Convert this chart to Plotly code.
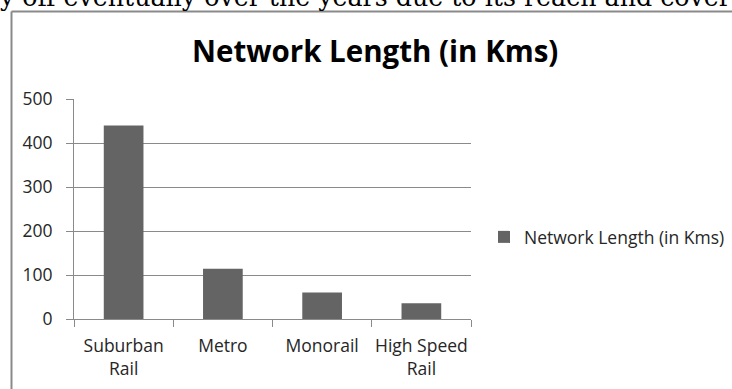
import plotly.graph_objects as go

categories = ["Suburban<br>Rail", "Metro", "Monorail", "High Speed<br>Rail"]
network_km = [440, 114, 60, 36]
y_ticks = [0, 100, 200, 300, 400, 500]
series_name = "Network Length (in Kms)"
chart_title = "Network Length (in Kms)"
body_text = "y off eventually over the years due to its reach and cover"

W, H = 732, 389
L, R, T, B = 74, 261, 99, 70
PW, PH = W - L - R, H - T - B


def px_x(x):
    return (x - L) / PW


def px_y(y):
    return (H - B - y) / PH


FONT = "Open Sans"
TXT = "#262626"
GRID = "#8a8a8a"
FS = 17.5

fig = go.Figure()
fig.add_trace(go.Bar(
    x=categories, y=network_km, name=series_name,
    marker=dict(color="#646464", line=dict(width=0)),
    showlegend=True,
))

fig.update_layout(
    width=W, height=H,
    margin=dict(l=L, r=R, t=T, b=B, autoexpand=False),
    paper_bgcolor="white", plot_bgcolor="white",
    bargap=0.6,
    font=dict(family=FONT, color=TXT, size=FS),
    xaxis=dict(
        showline=True, linecolor=GRID, linewidth=1,
        ticks="outside", ticklen=7, tickcolor=GRID,
        tickson="boundaries", showgrid=False,
        tickangle=0, automargin=False,
        ticklabelstandoff=11,
        tickfont=dict(size=FS, color=TXT),
    ),
    yaxis=dict(
        range=[0, 500], tickvals=y_ticks,
        showline=True, linecolor=GRID, linewidth=1,
        ticks="outside", ticklen=7, tickcolor=GRID,
        showgrid=True, gridcolor=GRID, gridwidth=1,
        automargin=False,
        ticklabelstandoff=10,
        zeroline=False, tickfont=dict(size=FS, color=TXT),
    ),
    legend=dict(
        x=px_x(484), y=px_y(237), xanchor="left", yanchor="middle",
        font=dict(size=FS, color=TXT), itemwidth=30,
    ),
    showlegend=True,
)

fig.add_annotation(
    text="<b>" + chart_title + "</b>", xref="paper", yref="paper",
    x=px_x(375), y=px_y(50), xanchor="center", yanchor="middle",
    showarrow=False, font=dict(family=FONT, size=29.5, color="#000000"),
)

fig.add_annotation(
    text=body_text, xref="paper", yref="paper",
    x=px_x(-3), y=px_y(14), xanchor="left", yanchor="bottom",
    showarrow=False, font=dict(family="DejaVu Serif", size=25.3, color="#000000"),
)

# frame around the chart object
fig.add_shape(type="line", xref="paper", yref="paper",
              x0=px_x(11.5), x1=px_x(11.5), y0=px_y(11.5), y1=px_y(H + 5),
              line=dict(color=GRID, width=2))
fig.add_shape(type="line", xref="paper", yref="paper",
              x0=px_x(11.5), x1=px_x(W + 5), y0=px_y(11.5), y1=px_y(11.5),
              line=dict(color=GRID, width=2))

fig.write_html("out.html")
